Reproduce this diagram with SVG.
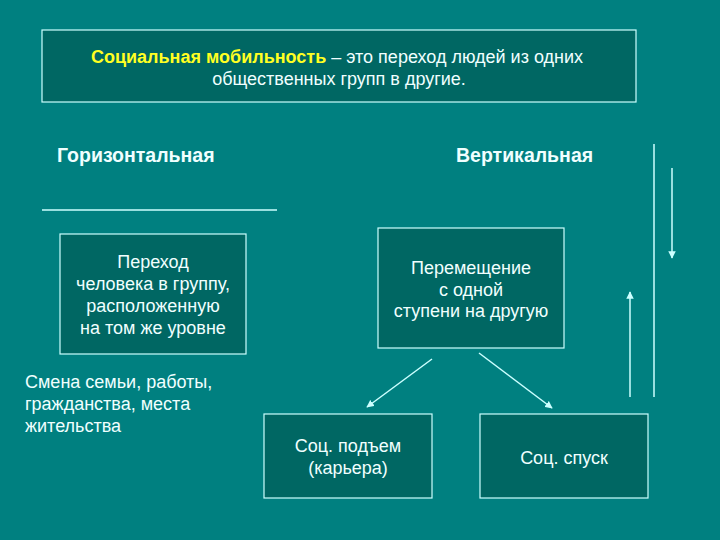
<svg xmlns="http://www.w3.org/2000/svg" width="720" height="540" viewBox="0 0 720 540">
<defs>
<style>
.bg{fill:#008080}
.box{fill:#006763;stroke:#ccffff;stroke-width:1.2}
.t{font-family:"Liberation Sans",Arial,sans-serif;font-size:18px;fill:#f0ffff;text-anchor:middle}
.l{text-anchor:start}
.h{font-family:"Liberation Sans",Arial,sans-serif;font-size:19.5px;font-weight:bold;fill:#f0ffff}
.ln{stroke:#ccffff;stroke-width:1.5;fill:none}
</style>
<marker id="ah" viewBox="0 0 10 10" refX="9" refY="5" markerWidth="5" markerHeight="5" orient="auto">
<path d="M0,0 L10,5 L0,10 z" fill="#ccffff"/>
</marker>
</defs>
<rect class="bg" x="0" y="0" width="720" height="540"/>
<g id="definition">
<rect class="box" x="42" y="30" width="594" height="72"/>
<text class="t" x="337" y="63"><tspan fill="#ffff22" font-weight="bold">Социальная мобильность</tspan> – это переход людей из одних</text>
<text class="t" x="339" y="85">общественных групп в другие.</text>
</g>
<g id="horizontal-label">
<text class="h" x="57" y="162">Горизонтальная</text>
</g>
<g id="vertical-label">
<text class="h" x="456" y="162">Вертикальная</text>
</g>
<g id="horizontal-box">
<rect class="box" x="60" y="234" width="186" height="120"/>
<text class="t" x="153" y="268">Переход</text>
<text class="t" x="153" y="290">человека в группу,</text>
<text class="t" x="153" y="312">расположенную</text>
<text class="t" x="153" y="334">на том же уровне</text>
</g>
<g id="vertical-box">
<rect class="box" x="378" y="228" width="186" height="120"/>
<text class="t" x="471" y="274">Перемещение</text>
<text class="t" x="471" y="296">с одной</text>
<text class="t" x="471" y="317">ступени на другую</text>
</g>
<g id="examples">
<text class="t l" x="25" y="388">Смена семьи, работы,</text>
<text class="t l" x="25" y="410">гражданства, места</text>
<text class="t l" x="25" y="432">жительства</text>
</g>
<g id="rise-box">
<rect class="box" x="264" y="414" width="168" height="84"/>
<text class="t" x="348" y="452">Соц. подъем</text>
<text class="t" x="348" y="474">(карьера)</text>
</g>
<g id="fall-box">
<rect class="box" x="480" y="414" width="168" height="84"/>
<text class="t" x="564" y="464">Соц. спуск</text>
</g>
<g id="connectors">
<line class="ln" x1="42" y1="210" x2="277" y2="210"/>
<line class="ln" x1="432" y1="359" x2="367" y2="407" marker-end="url(#ah)"/>
<line class="ln" x1="479" y1="353" x2="552" y2="408" marker-end="url(#ah)"/>
<line class="ln" x1="654" y1="144" x2="654" y2="397"/>
<line class="ln" x1="672" y1="168" x2="672" y2="258" marker-end="url(#ah)"/>
<line class="ln" x1="630" y1="397" x2="630" y2="292" marker-end="url(#ah)"/>
</g>
</svg>
